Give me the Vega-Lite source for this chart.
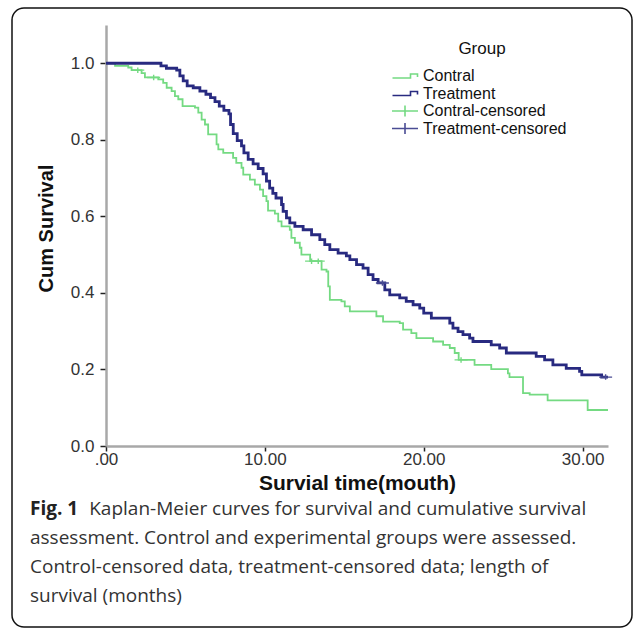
{
  "$schema": "https://vega.github.io/schema/vega-lite/v6.json",
  "width": 620,
  "height": 619,
  "autosize": {"type": "none"},
  "padding": {"left": 12, "top": 8, "right": 2, "bottom": 3},
  "background": "white",
  "config": {
    "view": {"stroke": "#111111", "strokeWidth": 1.5, "cornerRadius": 12, "fill": "white"},
    "font": "Liberation Sans"
  },
  "title": {
    "text": "Fig. 1",
    "subtitle": [
      "\u200b\u00a0\u00a0\u00a0\u00a0\u00a0\u00a0\u00a0\u00a0\u00a0\u00a0\u00a0\u00a0Kaplan-Meier curves for survival and cumulative survival",
      "assessment. Control and experimental groups were assessed.",
      "Control-censored data, treatment-censored data; length of",
      "survival (months)"
    ],
    "orient": "bottom",
    "anchor": "start",
    "frame": "group",
    "offset": -127,
    "dx": 18,
    "font": "Open Sans",
    "fontSize": 19,
    "fontWeight": "bold",
    "color": "#222222",
    "subtitleFont": "Open Sans",
    "subtitleFontSize": 19,
    "subtitleColor": "#333333",
    "subtitleLineHeight": 29,
    "subtitlePadding": -19
  },
  "datasets": {
    "km": [
      {"grp": "Contral", "t": 0, "s": 1},
      {"grp": "Contral", "t": 0.57, "s": 0.993},
      {"grp": "Contral", "t": 1.4, "s": 0.989},
      {"grp": "Contral", "t": 1.61, "s": 0.982},
      {"grp": "Contral", "t": 2.24, "s": 0.974},
      {"grp": "Contral", "t": 2.45, "s": 0.963},
      {"grp": "Contral", "t": 3.29, "s": 0.958},
      {"grp": "Contral", "t": 3.6, "s": 0.949},
      {"grp": "Contral", "t": 3.82, "s": 0.936},
      {"grp": "Contral", "t": 4.13, "s": 0.927},
      {"grp": "Contral", "t": 4.34, "s": 0.914},
      {"grp": "Contral", "t": 4.55, "s": 0.906},
      {"grp": "Contral", "t": 4.82, "s": 0.888},
      {"grp": "Contral", "t": 5.6, "s": 0.884},
      {"grp": "Contral", "t": 5.81, "s": 0.871},
      {"grp": "Contral", "t": 6.02, "s": 0.853},
      {"grp": "Contral", "t": 6.23, "s": 0.84},
      {"grp": "Contral", "t": 6.43, "s": 0.814},
      {"grp": "Contral", "t": 6.96, "s": 0.788},
      {"grp": "Contral", "t": 7.07, "s": 0.775},
      {"grp": "Contral", "t": 7.38, "s": 0.766},
      {"grp": "Contral", "t": 8.0, "s": 0.753},
      {"grp": "Contral", "t": 8.2, "s": 0.74},
      {"grp": "Contral", "t": 8.53, "s": 0.727},
      {"grp": "Contral", "t": 8.64, "s": 0.709},
      {"grp": "Contral", "t": 9.06, "s": 0.696},
      {"grp": "Contral", "t": 9.37, "s": 0.683},
      {"grp": "Contral", "t": 9.69, "s": 0.67},
      {"grp": "Contral", "t": 9.89, "s": 0.653},
      {"grp": "Contral", "t": 10.1, "s": 0.64},
      {"grp": "Contral", "t": 10.2, "s": 0.615},
      {"grp": "Contral", "t": 10.63, "s": 0.607},
      {"grp": "Contral", "t": 10.84, "s": 0.587},
      {"grp": "Contral", "t": 11.05, "s": 0.574},
      {"grp": "Contral", "t": 11.57, "s": 0.565},
      {"grp": "Contral", "t": 11.67, "s": 0.544},
      {"grp": "Contral", "t": 11.89, "s": 0.531},
      {"grp": "Contral", "t": 12.2, "s": 0.518},
      {"grp": "Contral", "t": 12.3, "s": 0.5},
      {"grp": "Contral", "t": 12.85, "s": 0.483},
      {"grp": "Contral", "t": 13.57, "s": 0.461},
      {"grp": "Contral", "t": 13.88, "s": 0.456},
      {"grp": "Contral", "t": 13.99, "s": 0.417},
      {"grp": "Contral", "t": 14.09, "s": 0.382},
      {"grp": "Contral", "t": 14.82, "s": 0.378},
      {"grp": "Contral", "t": 15.03, "s": 0.365},
      {"grp": "Contral", "t": 15.35, "s": 0.352},
      {"grp": "Contral", "t": 17.02, "s": 0.339},
      {"grp": "Contral", "t": 17.44, "s": 0.325},
      {"grp": "Contral", "t": 18.49, "s": 0.321},
      {"grp": "Contral", "t": 18.7, "s": 0.304},
      {"grp": "Contral", "t": 19.22, "s": 0.295},
      {"grp": "Contral", "t": 19.54, "s": 0.282},
      {"grp": "Contral", "t": 20.59, "s": 0.273},
      {"grp": "Contral", "t": 21.22, "s": 0.264},
      {"grp": "Contral", "t": 21.64, "s": 0.256},
      {"grp": "Contral", "t": 21.95, "s": 0.243},
      {"grp": "Contral", "t": 22.2, "s": 0.225},
      {"grp": "Contral", "t": 23.2, "s": 0.212},
      {"grp": "Contral", "t": 24.25, "s": 0.201},
      {"grp": "Contral", "t": 25.3, "s": 0.19},
      {"grp": "Contral", "t": 25.4, "s": 0.18},
      {"grp": "Contral", "t": 26.25, "s": 0.138},
      {"grp": "Contral", "t": 26.67, "s": 0.134},
      {"grp": "Contral", "t": 27.8, "s": 0.119},
      {"grp": "Contral", "t": 30.32, "s": 0.094},
      {"grp": "Contral", "t": 31.6, "s": 0.094},
      {"grp": "Treatment", "t": 0, "s": 1},
      {"grp": "Treatment", "t": 3.46, "s": 0.993},
      {"grp": "Treatment", "t": 3.8, "s": 0.987},
      {"grp": "Treatment", "t": 4.45, "s": 0.982},
      {"grp": "Treatment", "t": 4.65, "s": 0.967},
      {"grp": "Treatment", "t": 4.86, "s": 0.954},
      {"grp": "Treatment", "t": 5.11, "s": 0.941},
      {"grp": "Treatment", "t": 5.49, "s": 0.936},
      {"grp": "Treatment", "t": 5.91, "s": 0.927},
      {"grp": "Treatment", "t": 6.29, "s": 0.919},
      {"grp": "Treatment", "t": 6.58, "s": 0.91},
      {"grp": "Treatment", "t": 6.86, "s": 0.9},
      {"grp": "Treatment", "t": 7.13, "s": 0.888},
      {"grp": "Treatment", "t": 7.42, "s": 0.877},
      {"grp": "Treatment", "t": 7.74, "s": 0.868},
      {"grp": "Treatment", "t": 7.84, "s": 0.84},
      {"grp": "Treatment", "t": 8.01, "s": 0.816},
      {"grp": "Treatment", "t": 8.26, "s": 0.798},
      {"grp": "Treatment", "t": 8.53, "s": 0.784},
      {"grp": "Treatment", "t": 8.68, "s": 0.766},
      {"grp": "Treatment", "t": 8.95, "s": 0.749},
      {"grp": "Treatment", "t": 9.26, "s": 0.737},
      {"grp": "Treatment", "t": 9.58, "s": 0.725},
      {"grp": "Treatment", "t": 9.89, "s": 0.711},
      {"grp": "Treatment", "t": 10.1, "s": 0.692},
      {"grp": "Treatment", "t": 10.3, "s": 0.674},
      {"grp": "Treatment", "t": 10.5, "s": 0.66},
      {"grp": "Treatment", "t": 10.7, "s": 0.648},
      {"grp": "Treatment", "t": 11.05, "s": 0.631},
      {"grp": "Treatment", "t": 11.15, "s": 0.613},
      {"grp": "Treatment", "t": 11.36, "s": 0.596},
      {"grp": "Treatment", "t": 11.57, "s": 0.583},
      {"grp": "Treatment", "t": 11.89, "s": 0.574},
      {"grp": "Treatment", "t": 12.41, "s": 0.565},
      {"grp": "Treatment", "t": 12.94, "s": 0.552},
      {"grp": "Treatment", "t": 13.46, "s": 0.539},
      {"grp": "Treatment", "t": 13.77, "s": 0.526},
      {"grp": "Treatment", "t": 14.09, "s": 0.513},
      {"grp": "Treatment", "t": 14.61, "s": 0.504},
      {"grp": "Treatment", "t": 15.13, "s": 0.497},
      {"grp": "Treatment", "t": 15.35, "s": 0.487},
      {"grp": "Treatment", "t": 15.77, "s": 0.474},
      {"grp": "Treatment", "t": 16.18, "s": 0.465},
      {"grp": "Treatment", "t": 16.5, "s": 0.448},
      {"grp": "Treatment", "t": 16.81, "s": 0.435},
      {"grp": "Treatment", "t": 17.13, "s": 0.426},
      {"grp": "Treatment", "t": 17.55, "s": 0.408},
      {"grp": "Treatment", "t": 17.86, "s": 0.395},
      {"grp": "Treatment", "t": 18.49, "s": 0.387},
      {"grp": "Treatment", "t": 18.9, "s": 0.378},
      {"grp": "Treatment", "t": 19.33, "s": 0.369},
      {"grp": "Treatment", "t": 19.75, "s": 0.36},
      {"grp": "Treatment", "t": 20.0, "s": 0.347},
      {"grp": "Treatment", "t": 20.48, "s": 0.334},
      {"grp": "Treatment", "t": 21.64, "s": 0.321},
      {"grp": "Treatment", "t": 21.84, "s": 0.308},
      {"grp": "Treatment", "t": 22.16, "s": 0.299},
      {"grp": "Treatment", "t": 22.47, "s": 0.291},
      {"grp": "Treatment", "t": 22.89, "s": 0.282},
      {"grp": "Treatment", "t": 23.1, "s": 0.273},
      {"grp": "Treatment", "t": 24.25, "s": 0.264},
      {"grp": "Treatment", "t": 24.78, "s": 0.256},
      {"grp": "Treatment", "t": 25.2, "s": 0.243},
      {"grp": "Treatment", "t": 27.08, "s": 0.234},
      {"grp": "Treatment", "t": 27.61, "s": 0.225},
      {"grp": "Treatment", "t": 28.13, "s": 0.212},
      {"grp": "Treatment", "t": 28.97, "s": 0.203},
      {"grp": "Treatment", "t": 29.81, "s": 0.195},
      {"grp": "Treatment", "t": 29.95, "s": 0.186},
      {"grp": "Treatment", "t": 31.2, "s": 0.18},
      {"grp": "Treatment", "t": 31.6, "s": 0.18}
    ],
    "cens": [
      {"grp": "Contral-censored", "t": 2.0, "s": 0.982},
      {"grp": "Contral-censored", "t": 3.0, "s": 0.963},
      {"grp": "Contral-censored", "t": 12.94, "s": 0.483},
      {"grp": "Contral-censored", "t": 13.36, "s": 0.483},
      {"grp": "Contral-censored", "t": 22.35, "s": 0.225},
      {"grp": "Treatment-censored", "t": 17.4, "s": 0.426},
      {"grp": "Treatment-censored", "t": 31.45, "s": 0.18}
    ]
  },
  "layer": [
    {
      "data": {"name": "km"},
      "transform": [{"filter": "datum.grp === 'Contral'"}],
      "mark": {"type": "line", "interpolate": "step-after", "strokeWidth": 1.8, "color": "#74DA82"},
      "encoding": {
        "x": {
          "field": "t", "type": "quantitative",
          "scale": {"domain": [0, 31.6], "range": [94, 596], "nice": false, "zero": false},
          "axis": {
            "title": "Survial time(mouth)",
            "values": [0, 10, 20, 30],
            "labelExpr": "datum.value === 0 ? '.00' : format(datum.value, '.2f')",
            "offset": -181,
            "grid": false,
            "labelFlush": false,
            "domainColor": "#A8A8A8", "domainWidth": 2.5,
            "tickColor": "#222222", "tickSize": 5, "tickWidth": 1.5,
            "labelFont": "Liberation Sans", "labelFontSize": 17, "labelColor": "#333333", "labelPadding": 0,
            "titleFont": "Liberation Sans", "titleFontSize": 21, "titleFontWeight": "bold", "titleColor": "#111111",
            "titleY": 26
          }
        },
        "y": {
          "field": "s", "type": "quantitative",
          "scale": {"domain": [0, 1.1], "range": [438, 17], "nice": false, "zero": false},
          "axis": {
            "title": "Cum Survival",
            "values": [0, 0.2, 0.4, 0.6, 0.8, 1],
            "format": ".1f",
            "offset": -94,
            "grid": false,
            "labelFlush": false,
            "domainColor": "#A8A8A8", "domainWidth": 2.5,
            "tickColor": "#222222", "tickSize": 6, "tickWidth": 1.5,
            "labelFont": "Liberation Sans", "labelFontSize": 17, "labelColor": "#333333", "labelPadding": 6,
            "titleFont": "Liberation Sans", "titleFontSize": 20, "titleFontWeight": "bold", "titleColor": "#111111",
            "titlePadding": 14, "titleY": 220
          }
        }
      }
    },
    {
      "data": {"name": "km"},
      "transform": [{"filter": "datum.grp === 'Treatment'"}],
      "mark": {"type": "line", "interpolate": "step-after", "strokeWidth": 2.8, "color": "#282A80"},
      "encoding": {
        "x": {"field": "t", "type": "quantitative"},
        "y": {"field": "s", "type": "quantitative"}
      }
    },
    {
      "data": {"name": "cens"},
      "mark": {"type": "point", "filled": false, "strokeWidth": 1.4, "size": 25, "opacity": 1},
      "encoding": {
        "x": {"field": "t", "type": "quantitative"},
        "y": {"field": "s", "type": "quantitative"},
        "color": {
          "field": "grp", "type": "nominal",
          "scale": {"domain": ["Contral", "Treatment", "Contral-censored", "Treatment-censored"], "range": ["#74DA82", "#282A80", "#74DA82", "#4A4C94"]},
          "legend": {
            "title": "Group", "orient": "none", "legendX": 385, "legendY": 33,
            "symbolSize": 100, "symbolStrokeWidth": 1.6,
            "labelFont": "Liberation Sans", "labelFontSize": 16, "labelColor": "#111111", "labelOffset": 10,
            "titleFont": "Liberation Sans", "titleFontSize": 17, "titleFontWeight": "normal", "titleColor": "#111111",
            "titleAnchor": "middle", "titlePadding": 10, "rowPadding": -0.5, "gridAlign": "all", "padding": 0
          }
        },
        "shape": {
          "field": "grp", "type": "nominal",
          "scale": {
            "domain": ["Contral", "Treatment", "Contral-censored", "Treatment-censored"],
            "range": ["M-2.5,0.4H1.1V-0.4H2.5V0.2", "M-2.5,0.4H1.1V-0.4H2.5V0.2", "M-2.6,0H2.6M0,-1.1V1.1", "M-2.6,0H2.6M0,-1.1V1.1"]
          },
          "legend": {
            "title": "Group", "orient": "none", "legendX": 385, "legendY": 33,
            "symbolSize": 100, "symbolStrokeWidth": 1.6,
            "labelFont": "Liberation Sans", "labelFontSize": 16, "labelColor": "#111111", "labelOffset": 10,
            "titleFont": "Liberation Sans", "titleFontSize": 17, "titleFontWeight": "normal", "titleColor": "#111111",
            "titleAnchor": "middle", "titlePadding": 10, "rowPadding": -0.5, "gridAlign": "all", "padding": 0
          }
        }
      }
    }
  ]
}
